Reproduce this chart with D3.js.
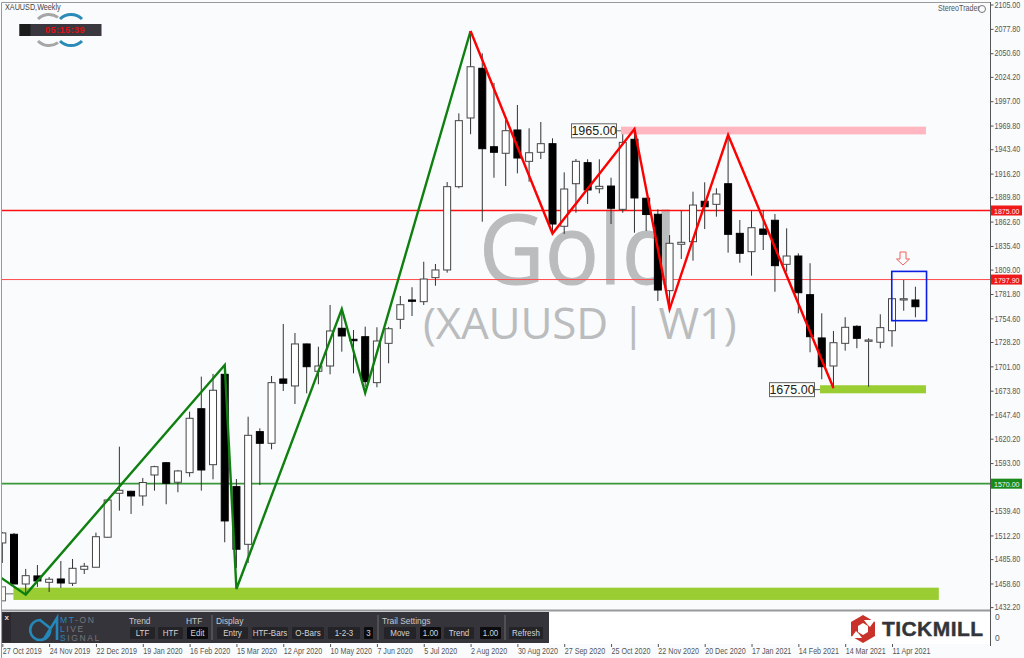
<!DOCTYPE html>
<html><head><meta charset="utf-8">
<style>html,body{margin:0;padding:0;background:#f9fbfd}svg{display:block}text{font-family:"Liberation Sans",sans-serif}</style>
<script src="https://cdn.jsdelivr.net/npm/d3@7"></script></head><body>
<svg id="c" width="1024" height="658"></svg>
<script>
const opens=[1503.8,1513.5,1458,1467,1459.9,1463.6,1458.8,1474.4,1476.7,1510.2,1559.3,1561.5,1556.3,1579.7,1593.4,1571.6,1582.3,1653.7,1591.2,1692.1,1566.7,1502.3,1628.1,1615.1,1686.9,1679.1,1726,1695.5,1701.4,1743.5,1731.2,1734.1,1682.8,1726.7,1753.5,1775.1,1773.2,1800,1808.6,1901.6,1978.3,2033.8,1946.2,1938.9,1964.9,1929.9,1940,1949.6,1857.4,1904.9,1928.4,1899.3,1902.3,1876.3,1954.5,1888.7,1870.8,1785.5,1837.3,1840.2,1885.3,1881.9,1904.9,1849.5,1829,1854.3,1864.1,1814.9,1824.2,1781,1732.7,1701.4,1726.7,1745.7,1729,1727.9,1740.8,1775.1,1775.1];
const closes=[1515,1458,1467.3,1461.4,1463.3,1459.1,1475.5,1477.8,1510.8,1551.8,1562.6,1556.3,1571.3,1589,1570.4,1584.2,1643,1585.3,1674.3,1528.4,1496.8,1624,1615.1,1682.8,1682.1,1726,1700.6,1701.4,1740.5,1734.9,1729.6,1683.9,1729.3,1743,1769.8,1773.6,1798.5,1808.6,1901.6,1975.3,2035.5,1944,1940,1964.1,1933.6,1939.5,1949.6,1859.9,1899,1929.9,1897.9,1902,1877.5,1951.1,1889,1870.5,1786.2,1838.4,1839.5,1881.1,1879.2,1893.4,1848.4,1827.2,1855.8,1848.4,1813.4,1824.2,1783.2,1734.1,1700.6,1727.4,1744.6,1732.3,1730.4,1744.2,1776.5,1776.5,1767.6];
const highs=[1516.1,1515,1474.8,1479.2,1465.8,1483.7,1485.9,1481.5,1515.3,1552,1611.3,1562,1576.4,1590,1594.2,1585.3,1650.4,1689.5,1692.5,1702.5,1575.2,1644.8,1631.8,1690.2,1748.3,1738.2,1726.5,1722.9,1769.5,1763.9,1741.6,1745.3,1744.6,1745,1779.5,1789.3,1817.8,1815.3,1906.8,1983.5,2075.4,2050.5,2017.3,1976,1992.8,1966.8,1973.8,1955.6,1917.6,1932.5,1932.2,1932.2,1911.6,1960.1,1967.1,1889,1876.3,1847.6,1874.8,1896,1906.5,1899.8,1959.3,1864.4,1874.8,1875.6,1871.1,1855.1,1827.2,1816.1,1760.2,1740.5,1755.8,1746.8,1732.3,1759.1,1776.5,1797.4,1789.9];
const lows=[1481.5,1458,1445.7,1454.7,1449.1,1453.6,1455.8,1469.2,1476.7,1510,1539.9,1536.2,1545.4,1562.2,1547,1560.4,1577.8,1562.2,1574.9,1504.6,1475.9,1481.5,1568.5,1608.4,1673.5,1659,1670.9,1681,1692.1,1717.4,1693.2,1678,1677.6,1704.4,1742.7,1757.2,1769.5,1791,1805.6,1899.8,1960.1,1862.5,1911.6,1902.3,1916.5,1907.1,1932.5,1849.9,1848.8,1872.5,1882.3,1894.2,1859.9,1872.5,1850.2,1852.1,1774,1765.8,1820.9,1819,1854.3,1868.1,1827.9,1816.7,1802.2,1830.9,1784.3,1806.7,1760.2,1716.7,1686.6,1676.5,1718.5,1721.2,1678.3,1721.2,1722.9,1763.1,1755.8];
const priceTicks=[2105,2077.8,2050.6,2024.2,1997,1969.8,1943.4,1916.2,1889.8,1862.6,1835.4,1809,1781.8,1754.6,1728.2,1701,1673.8,1647.4,1620.2,1593,1539.4,1512.2,1485.8,1458.6,1432.2];
const dateTicks=["27 Oct 2019","24 Nov 2019","22 Dec 2019","19 Jan 2020","16 Feb 2020","15 Mar 2020","12 Apr 2020","10 May 2020","7 Jun 2020","5 Jul 2020","2 Aug 2020","30 Aug 2020","27 Sep 2020","25 Oct 2020","22 Nov 2020","20 Dec 2020","17 Jan 2021","14 Feb 2021","14 Mar 2021","11 Apr 2021"];
const greenIdx=[-0.2,2,19,20,29,31,40], greenPx=[1465.8,1446.1,1702.5,1452.4,1765,1671.3,2075.4];
const redIdx=[40,47,54,57,62,71], redPx=[2075.4,1849.3,1966,1765,1959.3,1676.8];
const levels=[{p:1875,c:"#ff1010",w:1.5,t:"1875.00"},{p:1797.9,c:"#ff4a4a",w:1,t:"1797.90"},{p:1570,c:"#3a983a",w:1.8,t:"1570.00"}];
const zones=[{i0:0.95,i1:80,p0:1453.9,p1:1440.2,c:"#9acd32"},{i0:52.85,i1:78.9,p0:1968.6,p1:1960,c:"#ffb6c1"},{i0:69.85,i1:78.9,p0:1679.9,p1:1670.9,c:"#9acd32"}];
const priceLabels=[{t:"1965.00",p:1964,i1:52.85,x0:571,x1:616},{t:"1675.00",p:1675,i1:69.85,x0:769,x1:814},{t:"",p:1447,i1:0.95,x0:-40,x1:5}];
const boxI=[75.98,78.95], boxP=[1807,1752];
const panelLabels=[["Trend",129],["HTF",186],["Display",216],["Trail Settings",382]];
const panelButtons=[["LTF",130,155,0],["HTF",158,183,0],["Edit",187,208,1],["Entry",217,248,0],["HTF-Bars",252,288,0],["O-Bars",292,324,0],["1-2-3",328,360,0],["3",364,373,1],["Move",384,416,0],["1.00",420,441,1],["Trend",444,474,0],["1.00",480,501,1],["Refresh",509,543,0]];

// the reference uses a condensed UI face: squeeze the text to its measured width
function squeeze(sel,k){sel.each(function(){const w=this.getComputedTextLength();if(w>0){this.setAttribute("textLength",(w*k).toFixed(1));this.setAttribute("lengthAdjust","spacingAndGlyphs");}});}

const svg=d3.select("#c");
const x=d3.scaleLinear().domain([0,76]).range([2.3,892]);
const y=d3.scaleLinear().domain([2105,1432.2]).range([4.5,607.1]);
const defs=svg.append("defs");
defs.append("clipPath").attr("id","plot").append("rect").attr("x",2).attr("y",3).attr("width",988).attr("height",607);
const f=defs.append("filter").attr("id","soft");f.append("feGaussianBlur").attr("stdDeviation",0.35);

svg.append("rect").attr("width",1024).attr("height",658).attr("fill","#f9fbfd");
const plot=svg.append("g").attr("clip-path","url(#plot)");

plot.append("text").attr("x",479).attr("y",284).attr("font-size",97).attr("fill","#bbbcbd").attr("stroke","#bbbcbd").attr("stroke-width",1).style("font-family","Open Sans").attr("textLength",198).attr("lengthAdjust","spacingAndGlyphs").text("Gold");
plot.append("text").attr("x",423).attr("y",339).attr("font-size",44).attr("fill","#bbbcbd").style("font-family","Open Sans").style("word-spacing","2px").style("letter-spacing","-0.2px").text("(XAUUSD | W1)");

plot.selectAll(".z").data(zones).join("rect").attr("x",d=>x(d.i0)).attr("width",d=>x(d.i1)-x(d.i0)).attr("y",d=>y(d.p0)).attr("height",d=>y(d.p1)-y(d.p0)).attr("fill",d=>d.c);

plot.selectAll(".lv").data(levels).join("line").attr("x1",0).attr("x2",990).attr("y1",d=>y(d.p)).attr("y2",d=>y(d.p)).attr("stroke",d=>d.c).attr("stroke-width",d=>d.w);

const bars=opens.map((o,i)=>({i,o,c:closes[i],h:highs[i],l:lows[i]}));
const cg=plot.append("g").attr("filter","url(#soft)");
cg.selectAll(".w").data(bars).join("line").attr("x1",d=>x(d.i)).attr("x2",d=>x(d.i)).attr("y1",d=>y(d.h)).attr("y2",d=>y(d.l)).attr("stroke","#333").attr("stroke-width",1);
cg.selectAll(".b").data(bars).join("rect").attr("x",d=>x(d.i)-3.5).attr("width",7)
 .attr("y",d=>y(Math.max(d.o,d.c))).attr("height",d=>Math.max(1,Math.abs(y(d.o)-y(d.c))))
 .attr("fill",d=>d.c>=d.o?"#fff":"#000").attr("stroke",d=>d.c>=d.o?"#444":"#000").attr("stroke-width",1);

const ln=d3.line().x(d=>x(d[0])).y(d=>y(d[1]));
plot.append("path").attr("d",ln(greenIdx.map((v,i)=>[v,greenPx[i]]))).attr("fill","none").attr("stroke","#0f800f").attr("stroke-width",2.4);
plot.append("path").attr("d",ln(redIdx.map((v,i)=>[v,redPx[i]]))).attr("fill","none").attr("stroke","#ff0000").attr("stroke-width",2.4);

plot.append("rect").attr("x",x(boxI[0])).attr("width",x(boxI[1])-x(boxI[0])).attr("y",y(boxP[0])).attr("height",y(boxP[1])-y(boxP[0])).attr("fill","none").attr("stroke","#0a1fe0").attr("stroke-width",1.6);

// hollow arrow above the box
plot.append("path").attr("d","M900 252H906V259H909.5L903 265L896.5 259H900Z").attr("fill","#f9fbfd").attr("stroke","#f0605a").attr("stroke-width",1);

const pl=plot.selectAll(".pl").data(priceLabels).join("g");
pl.append("line").attr("x1",d=>d.x1).attr("x2",d=>x(d.i1)).attr("y1",d=>y(d.p)).attr("y2",d=>y(d.p)).attr("stroke","#666");
pl.append("rect").attr("x",d=>d.x0+.5).attr("width",d=>d.x1-d.x0).attr("y",d=>y(d.p)-7).attr("height",14).attr("fill","#fdfdf8").attr("stroke","#666");
pl.filter(d=>d.t).append("text").attr("x",d=>(d.x0+d.x1)/2+.5).attr("y",d=>y(d.p)+4.5).attr("text-anchor","middle").attr("font-size",12.5).attr("fill","#222").text(d=>d.t);

// frame
svg.append("path").attr("d","M1.5 658V2.5H990").attr("fill","none").attr("stroke","#999");
svg.append("line").attr("x1",2).attr("x2",990).attr("y1",610.5).attr("y2",610.5).attr("stroke","#999").attr("stroke-width",2);

// price axis
const ya=d3.axisRight(y).tickValues(priceTicks).tickSize(3).tickPadding(1).tickFormat(d3.format(".2f"));
const yg=svg.append("g").attr("transform","translate(990.5,0)").call(ya);
yg.select(".domain").attr("stroke","#555").attr("d","M0 2V646");
yg.selectAll("text").attr("font-size",8.5).attr("fill","#555").call(squeeze,.84);
yg.selectAll("line").attr("stroke","#555");
const tg=svg.selectAll(".tag").data(levels).join("g");
tg.append("rect").attr("x",991).attr("width",31).attr("y",d=>y(d.p)-5).attr("height",10).attr("fill",d=>d.p===1570?"#1a8a1a":"#f01818");
tg.append("text").attr("x",994).attr("y",d=>y(d.p)+3).attr("font-size",7.6).attr("fill","#f6f6f6").text(d=>d.t).call(squeeze,.93);

// date axis
const xa=d3.axisBottom(x).tickValues(dateTicks.map((_,i)=>i*4)).tickSize(3).tickPadding(1).tickFormat((_,i)=>dateTicks[i]);
const xg=svg.append("g").attr("transform","translate(0,644)").call(xa);
xg.select(".domain").remove();
xg.selectAll("line").attr("stroke","#555");
xg.selectAll("text").attr("text-anchor","start").attr("font-size",8.5).attr("fill","#555").call(squeeze,.84);

// sub-window
svg.append("rect").attr("x",548).attr("y",612).attr("width",442).attr("height",32).attr("fill","#fff");
[620,641].forEach(v=>svg.append("text").attr("x",995).attr("y",v).attr("font-size",8.5).attr("fill","#555").text("0"));

// panel
const p=svg.append("g");
p.append("rect").attr("x",2).attr("y",612).attr("width",547).attr("height",31).attr("fill","#36343b");
p.append("rect").attr("x",3).attr("y",613).attr("width",8).attr("height",29).attr("fill","#2a282e");
p.append("text").attr("x",4.5).attr("y",620).attr("font-size",8).attr("font-weight","bold").attr("fill","#ddd").text("x");
p.selectAll(".pt").data(panelLabels).join("text").attr("x",d=>d[1]).attr("y",624).attr("font-size",9.5).attr("fill","#c8c8c8").text(d=>d[0]).call(squeeze,.88);
const bt=p.selectAll(".pb").data(panelButtons).join("g");
bt.append("rect").attr("x",d=>d[1]).attr("width",d=>d[2]-d[1]).attr("y",627).attr("height",12).attr("rx",1).attr("fill",d=>d[3]?"#0c0c0e":"#242328");
bt.append("text").attr("x",d=>(d[1]+d[2])/2).attr("y",636).attr("text-anchor","middle").attr("font-size",9.5).attr("fill","#d4d4d4").text(d=>d[0]).call(squeeze,.84);
[212,378,505].forEach(v=>p.append("line").attr("x1",v).attr("x2",v).attr("y1",615).attr("y2",640).attr("stroke","#5a5a5e").attr("stroke-width",1.5));
p.append("path").attr("d","M41 620A10 10 0 1 0 50 628L40 620M44 639L57 618V640").attr("fill","none").attr("stroke","#2488b8").attr("stroke-width",2.6);
const sig=[["MT","-ON",623],["L","IVE",632],["S","IGNAL",641]];
sig.forEach(s=>{const t=p.append("text").attr("x",60).attr("y",s[2]).attr("font-size",8.5).attr("letter-spacing",1.6);
 t.append("tspan").attr("fill","#2488b8").text(s[0]);t.append("tspan").attr("fill","#77777b").text(s[1]);});

// tickmill
svg.append("path").attr("d","M863 615L875 622V636L863 643L851 636V622Z").attr("fill","#c8322a");
svg.append("path").attr("d","M863 623L868 626V632L863 635L858 632V626Z").attr("fill","#fff");
svg.append("path").attr("d","M864 620L875 620L870 627L867 624ZM862 638L851 638L856 631L859 634Z").attr("fill","#fff");
svg.append("text").attr("x",882).attr("y",636).attr("font-size",21).attr("font-weight","bold").attr("fill","#33353a").attr("stroke","#33353a").attr("stroke-width",.4).attr("textLength",101).text("TICKMILL");

// header
svg.append("text").attr("x",5).attr("y",10).attr("font-size",8.5).attr("fill","#444").text("XAUUSD,Weekly").call(squeeze,.85);
svg.append("text").attr("x",938).attr("y",11).attr("font-size",8.5).attr("fill","#555").text("StereoTrader").call(squeeze,.84);
svg.append("circle").attr("cx",982).attr("cy",9).attr("r",3.5).attr("fill","none").attr("stroke","#777");
const hd=svg.append("g").attr("fill","none").attr("stroke-width",3);
hd.append("path").attr("d","M38 19A15.5 15.5 0 0 1 58 17.4M38 41A15.5 15.5 0 0 0 58 42.6").attr("stroke","#a6a6a6");
hd.append("path").attr("d","M60 19A15.5 15.5 0 0 1 82 19M60 41A15.5 15.5 0 0 0 82 41").attr("stroke","#2a8ab8");
svg.append("rect").attr("x",19.5).attr("y",24).attr("width",82).attr("height",12).attr("fill","#3a383e");
svg.append("rect").attr("x",19.5).attr("y",24).attr("width",11).attr("height",12).attr("fill","#1c1c1c");
svg.append("text").attr("x",45).attr("y",33).attr("font-size",9).attr("font-weight","bold").attr("fill","#e01010").attr("letter-spacing",.5).text("05:15:39");
</script></body></html>
